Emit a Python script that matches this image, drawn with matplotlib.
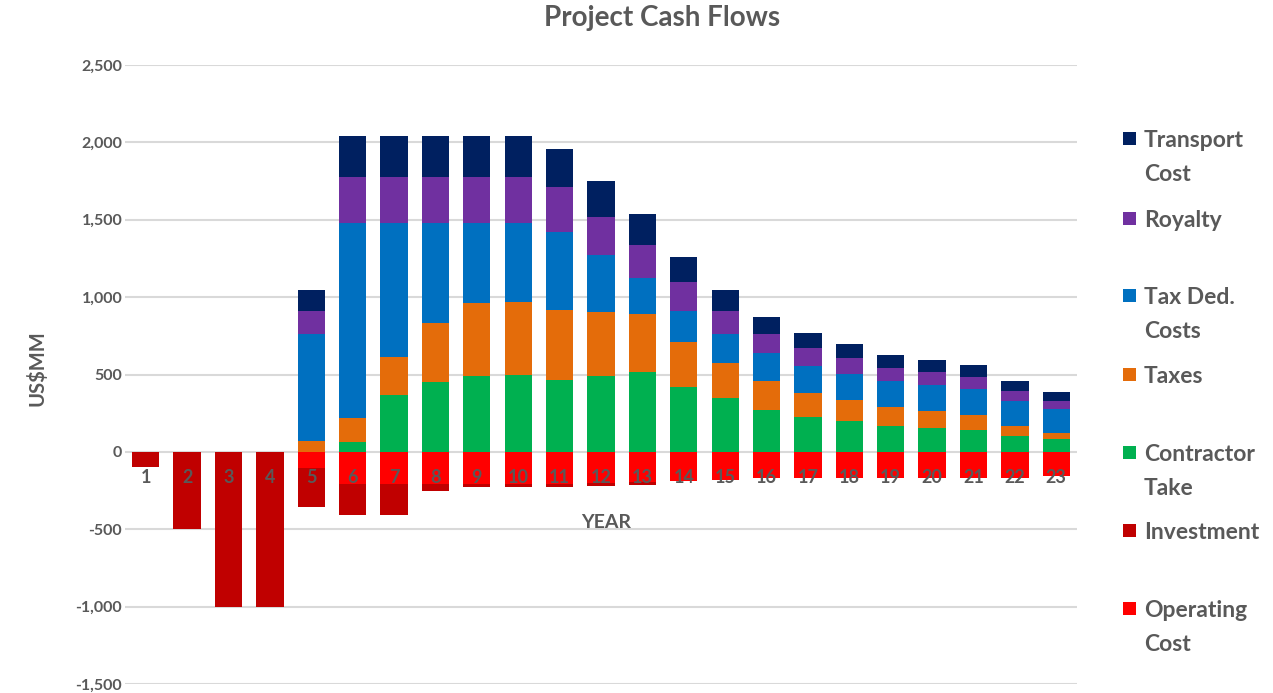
import matplotlib
matplotlib.use("Agg")
import matplotlib.pyplot as plt
from matplotlib.patches import Rectangle
from matplotlib.ticker import FuncFormatter
import numpy as np

years = list(range(1, 24))
contractor = [0, 0, 0, 0, 0, 62, 366, 450, 491, 498, 465, 491, 519, 420, 345, 269, 226, 198, 170, 157, 144, 103, 82]
taxes = [0, 0, 0, 0, 69, 160, 248, 380, 470, 472, 449, 410, 373, 291, 228, 186, 153, 134, 119, 106, 97, 63, 37]
tax_ded = [0, 0, 0, 0, 694, 1258, 866, 650, 519, 510, 510, 373, 231, 201, 188, 181, 179, 172, 166, 166, 164, 164, 155]
royalty = [0, 0, 0, 0, 148, 296, 296, 296, 296, 296, 285, 247, 217, 187, 151, 123, 112, 104, 90, 88, 78, 62, 56]
transport = [0, 0, 0, 0, 138, 265, 265, 265, 265, 265, 248, 229, 194, 160, 137, 112, 97, 90, 84, 78, 77, 63, 56]
operating = [0, 0, 0, 0, -105, -207, -207, -207, -207, -207, -207, -200, -196, -187, -179, -172, -172, -172, -166, -166, -166, -166, -157]
investment = [-100, -500, -1000, -1000, -248, -202, -202, -49, -21, -21, -21, -22, -19, 0, 0, 0, 0, 0, 0, 0, 0, 0, 0]

legend_labels = ["Transport\nCost", "Royalty", "Tax Ded.\nCosts", "Taxes", "Contractor\nTake", "Investment", "Operating\nCost"]

C_TRANS = "#002060"
C_ROY = "#7030A0"
C_TAXD = "#0070C0"
C_TAX = "#E46C0A"
C_CONT = "#00B050"
C_INV = "#C00000"
C_OP = "#FF0000"
GRAY = "#595959"

plt.rcParams['font.family'] = ['Lato', 'DejaVu Sans']

fig = plt.figure(figsize=(12.73, 6.93), dpi=100)
ax = fig.add_axes([125/1273, 1 - 684/693, (1077-125)/1273, (684-65)/693])

x = np.array(years)
w = 0.66
pos_series = [(contractor, C_CONT), (taxes, C_TAX), (tax_ded, C_TAXD), (royalty, C_ROY), (transport, C_TRANS)]
bottom = np.zeros(len(x))
for vals, col in pos_series:
    v = np.array(vals, dtype=float)
    ax.bar(x, v, w, bottom=bottom, color=col, linewidth=0, zorder=3)
    bottom += v
nb = np.zeros(len(x))
for vals, col in [(operating, C_OP), (investment, C_INV)]:
    v = np.array(vals, dtype=float)
    ax.bar(x, v, w, bottom=nb, color=col, linewidth=0, zorder=3)
    nb += v

ax.set_xlim(0.5, 23.5)
ax.set_ylim(-1500, 2500)
ax.set_yticks(np.arange(-1500, 2501, 500))
ax.yaxis.set_major_formatter(FuncFormatter(lambda v, p: f"{int(v):,}"))
ax.grid(axis='y', color='#D9D9D9', linewidth=1.5, zorder=0)
ax.set_axisbelow(True)
for s in ax.spines.values():
    s.set_visible(False)
ax.tick_params(axis='y', length=0, pad=2, labelsize=11.5, labelcolor=GRAY)
for t in ax.get_yticklabels():
    t.set_fontweight('bold')

ax.set_xticks([])
for yr in years:
    ax.annotate(str(yr), xy=(yr, 0), xytext=(0, -26), textcoords='offset pixels',
                ha='center', va='center', fontsize=13, fontweight='bold', color=GRAY, zorder=6)

fig.text(662/1273, 1 - 18/693, "Project Cash Flows", ha='center', va='center',
         fontsize=20, fontweight='bold', color=GRAY)
fig.text(606/1273, 1 - 522/693, "YEAR", ha='center', va='center',
         fontsize=14, fontweight='bold', color=GRAY)
fig.text(37/1273, 1 - 368/693, "US$MM", ha='center', va='center', rotation=90,
         fontsize=14.5, fontweight='bold', color=GRAY)

leg_colors = [C_TRANS, C_ROY, C_TAXD, C_TAX, C_CONT, C_INV, C_OP]
leg_y = [139, 219, 296, 375, 453, 531, 609]
for lab, col, yy in zip(legend_labels, leg_colors, leg_y):
    fig.patches.append(Rectangle((1123/1273, 1 - (yy + 6)/693), 13/1273, 13/693,
                                 transform=fig.transFigure, facecolor=col, edgecolor='none'))
    fig.text(1144/1273, 1 - (yy - 9)/693, lab, ha='left', va='top', fontsize=16.5,
             fontweight='bold', color=GRAY, linespacing=1.75)

fig.savefig("out.png", dpi=100)
